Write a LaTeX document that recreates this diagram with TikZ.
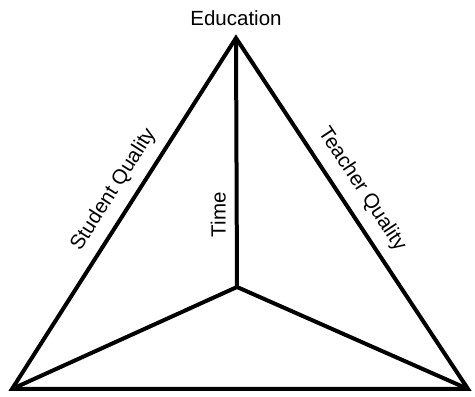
\documentclass[tikz,border=0pt]{standalone}
\usepackage{fontspec}
\setmainfont{Liberation Sans}
\usetikzlibrary{positioning}
\definecolor{ink}{HTML}{000000}
\tikzset{
  side/.style={
    draw=ink,
    line width=4pt,
    line join=miter
  },
  labeltext/.style={
    inner sep=6pt,
    font=\fontsize{20.5}{24}\selectfont
  },
  sidelabel/.style={
    labeltext,
    inner sep=10pt,
    sloped,
    above
  }
}

\begin{document}
\begin{tikzpicture}[x=1pt, y=1pt]
  \useasboundingbox (0,0) rectangle (475,397);
  \coordinate (apex) at (236,359);
  \coordinate (left) at (12,8);
  \coordinate (right) at (468,8);
  \coordinate (hub) at (237,110);

  \node[labeltext, above=6pt of apex] (education) {Education};

  \draw[side] (left) -- node[sidelabel, pos=0.535] (student) {Student Quality} (apex)
    -- node[sidelabel, pos=0.465] (teacher) {Teacher Quality} (right) -- cycle;
  \draw[side] (hub) -- node[labeltext, inner sep=9pt, pos=0.29, rotate=90, above] (time) {Time} (apex);
  \draw[side] (hub) -- (left);
  \draw[side] (hub) -- (right);
\end{tikzpicture}
\end{document}
